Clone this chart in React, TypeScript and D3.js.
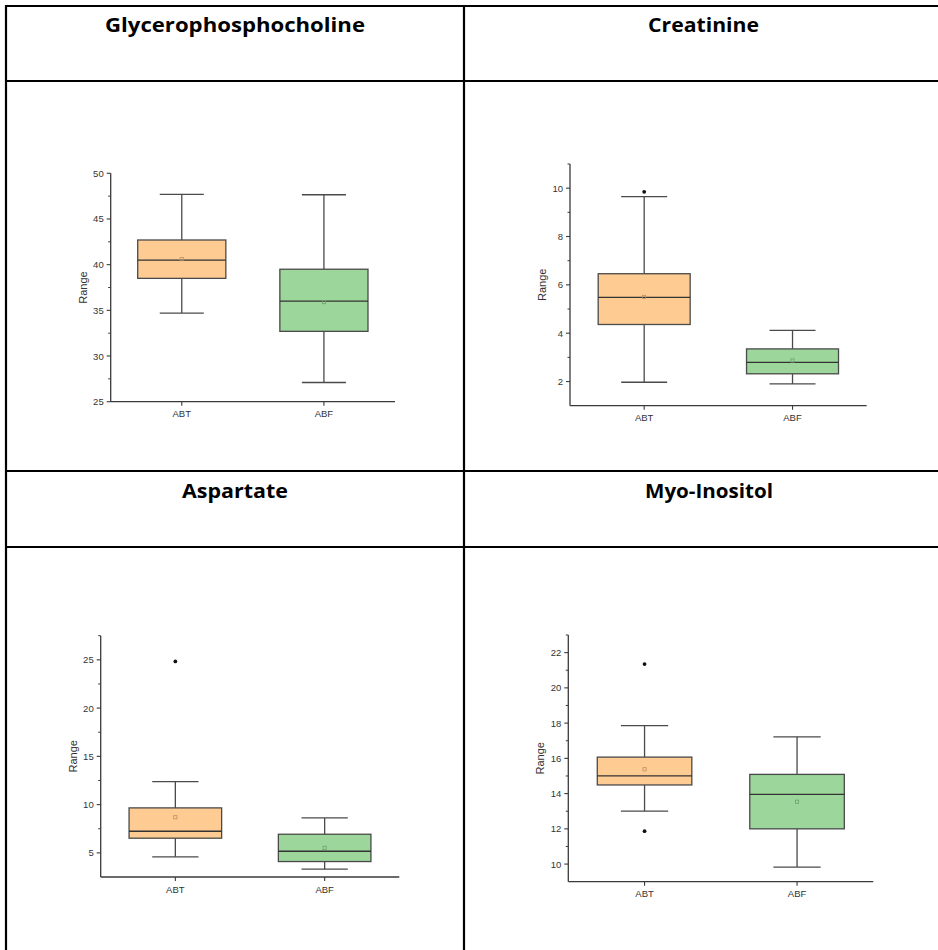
import React from 'react';
import * as d3 from 'd3';

// Group names on every x axis
const groups = ['ABT', 'ABF'];

// Metabolite names heading each table cell
const titles = ['Glycerophosphocholine', 'Creatinine', 'Aspartate', 'Myo-Inositol'];

// Box statistics per group: [lower whisker, Q1, median, Q3, upper whisker]
const gpcABT = [34.7, 38.5, 40.5, 42.7, 47.7];
const gpcABF = [27.1, 32.7, 36.0, 39.5, 47.65];
const creABT = [1.97, 4.36, 5.48, 6.46, 9.65];
const creABF = [1.9, 2.32, 2.79, 3.35, 4.12];
const aspABT = [4.59, 6.52, 7.24, 9.66, 12.38];
const aspABF = [3.31, 4.1, 5.17, 6.93, 8.62];
const myoABT = [13.0, 14.49, 15.0, 16.07, 17.86];
const myoABF = [9.83, 12.0, 13.96, 15.09, 17.22];

// Group means [ABT, ABF]
const gpcMeans = [40.6, 35.9];
const creMeans = [5.5, 2.87];
const aspMeans = [8.69, 5.52];
const myoMeans = [15.38, 13.54];

// Outlying points [ABT, ABF]
const gpcOutliers = [[], []];
const creOutliers = [[9.85], []];
const aspOutliers = [[24.83], []];
const myoOutliers = [[21.35, 11.87], []];

// Y axis domains and tick values
const gpcDomain = [25, 50];
const creDomain = [1, 11];
const aspDomain = [2.5, 27.5];
const myoDomain = [9, 23];
const gpcTicks = [25, 30, 35, 40, 45, 50];
const creTicks = [2, 4, 6, 8, 10];
const aspTicks = [5, 10, 15, 20, 25];
const myoTicks = [10, 12, 14, 16, 18, 20, 22];
const gpcMinor = [27.5, 32.5, 37.5, 42.5, 47.5];
const creMinor = [3, 5, 7, 9, 11];
const aspMinor = [7.5, 12.5, 17.5, 22.5, 27.5];
const myoMinor = [11, 13, 15, 17, 19, 21, 23];

const yLabel = 'Range';

const panels = [
  { title: titles[0], stats: [gpcABT, gpcABF], means: gpcMeans, outliers: gpcOutliers, domain: gpcDomain, ticks: gpcTicks, minor: gpcMinor },
  { title: titles[1], stats: [creABT, creABF], means: creMeans, outliers: creOutliers, domain: creDomain, ticks: creTicks, minor: creMinor },
  { title: titles[2], stats: [aspABT, aspABF], means: aspMeans, outliers: aspOutliers, domain: aspDomain, ticks: aspTicks, minor: aspMinor },
  { title: titles[3], stats: [myoABT, myoABF], means: myoMeans, outliers: myoOutliers, domain: myoDomain, ticks: myoTicks, minor: myoMinor },
];

// Plot frames inside the table cells
const frames = [
  { left: 110.7, right: 395, top: 173.3, bottom: 401.7 },
  { left: 570, right: 866.7, top: 164, bottom: 405.7 },
  { left: 100.7, right: 399.3, top: 635.7, bottom: 877 },
  { left: 568.3, right: 873.3, top: 635, bottom: 881.7 },
];

// Title placement: cell centre, baseline, fitted width
const titlePos = [
  { cx: 235, y: 32, w: 260 },
  { cx: 703.5, y: 32, w: 111 },
  { cx: 235, y: 498, w: 106 },
  { cx: 709, y: 498, w: 128 },
];

const fills = ['#FECC93', '#9DD69B'];
const meanStroke = ['#b8906a', '#6f9f6e'];
const ink = '#3a3a3a';
const font = "'Liberation Sans', Arial, sans-serif";

function BoxPanel({ p, f }: { p: any; f: any }) {
  const y = d3.scaleLinear().domain(p.domain).range([f.bottom, f.top]);
  const x = d3.scalePoint<string>().domain(groups).range([f.left, f.right]).padding(0.5);
  const bw = (f.right - f.left) * 0.31;
  return (
    <g>
      {/* axes */}
      <line x1={f.left} x2={f.left} y1={f.top} y2={f.bottom} stroke={ink} strokeWidth={1.3} />
      <line x1={f.left} x2={f.right} y1={f.bottom} y2={f.bottom} stroke={ink} strokeWidth={1.3} />
      {p.ticks.map((t: number) => (
        <g key={'t' + t}>
          <line x1={f.left - 4} x2={f.left} y1={y(t)} y2={y(t)} stroke={ink} strokeWidth={1.1} />
          <text x={f.left - 7} y={y(t)} textAnchor="end" dominantBaseline="central" fontSize={9.5} fill="#333" fontFamily={font}>{t}</text>
        </g>
      ))}
      {p.minor.map((t: number) => (
        <line key={'m' + t} x1={f.left - 2.5} x2={f.left} y1={y(t)} y2={y(t)} stroke={ink} strokeWidth={1} />
      ))}
      {groups.map((g) => (
        <g key={'x' + g}>
          <line x1={x(g)} x2={x(g)} y1={f.bottom} y2={f.bottom + 4} stroke={ink} strokeWidth={1.1} />
          <text x={x(g)} y={f.bottom + 15.5} textAnchor="middle" fontSize={9.5} fill="#333" fontFamily={font}>{g}</text>
        </g>
      ))}
      <text
        transform={`translate(${f.left - 28},${(f.top + f.bottom) / 2}) rotate(-90)`}
        textAnchor="middle"
        dominantBaseline="central"
        fontSize={11}
        fill="#333"
        fontFamily={font}
      >
        {yLabel}
      </text>
      {/* boxes */}
      {groups.map((g, i) => {
        const [lo, q1, med, q3, hi] = p.stats[i];
        const cx = x(g) as number;
        return (
          <g key={'b' + g}>
            <line x1={cx} x2={cx} y1={y(hi)} y2={y(q3)} stroke="#4a4a4a" strokeWidth={1.3} />
            <line x1={cx} x2={cx} y1={y(q1)} y2={y(lo)} stroke="#4a4a4a" strokeWidth={1.3} />
            <line x1={cx - bw / 4} x2={cx + bw / 4} y1={y(hi)} y2={y(hi)} stroke="#4a4a4a" strokeWidth={1.3} />
            <line x1={cx - bw / 4} x2={cx + bw / 4} y1={y(lo)} y2={y(lo)} stroke="#4a4a4a" strokeWidth={1.3} />
            <rect x={cx - bw / 2} y={y(q3)} width={bw} height={y(q1) - y(q3)} fill={fills[i]} stroke="#4a4a4a" strokeWidth={1.3} />
            <line x1={cx - bw / 2} x2={cx + bw / 2} y1={y(med)} y2={y(med)} stroke="#333" strokeWidth={1.3} />
            <rect x={cx - 1.6} y={y(p.means[i]) - 1.6} width={3.2} height={3.2} fill="none" stroke={meanStroke[i]} strokeWidth={0.8} />
            {p.outliers[i].map((v: number, k: number) => (
              <circle key={k} cx={cx} cy={y(v)} r={1.9} fill="#111" />
            ))}
          </g>
        );
      })}
    </g>
  );
}

export default function App() {
  const W = 938;
  const H = 950;
  const tableLines = {
    left: 6,
    mid: 464,
    rows: [6, 81, 471, 547],
  };
  return (
    <svg width={W} height={H} style={{ position: 'absolute', left: 0, top: 0, background: '#fff' }}>
      <rect width={W} height={H} fill="#fff" />
      {/* table grid */}
      <line x1={tableLines.left} x2={tableLines.left} y1={tableLines.rows[0] - 1} y2={H} stroke="#000" strokeWidth={2.2} />
      <line x1={tableLines.mid} x2={tableLines.mid} y1={tableLines.rows[0] - 1} y2={H} stroke="#000" strokeWidth={2.2} />
      {tableLines.rows.map((r) => (
        <line key={r} x1={tableLines.left - 1} x2={W} y1={r} y2={r} stroke="#000" strokeWidth={2.2} />
      ))}
      {/* cell titles */}
      {panels.map((p, i) => (
        <text
          key={'title' + i}
          x={titlePos[i].cx}
          y={titlePos[i].y}
          textAnchor="middle"
          fontSize={20}
          fontWeight="bold"
          fontFamily="'Open Sans', 'Noto Sans', sans-serif"
          textLength={titlePos[i].w}
          lengthAdjust="spacingAndGlyphs"
          fill="#000"
        >
          {p.title}
        </text>
      ))}
      {panels.map((p, i) => (
        <BoxPanel key={i} p={p} f={frames[i]} />
      ))}
    </svg>
  );
}
